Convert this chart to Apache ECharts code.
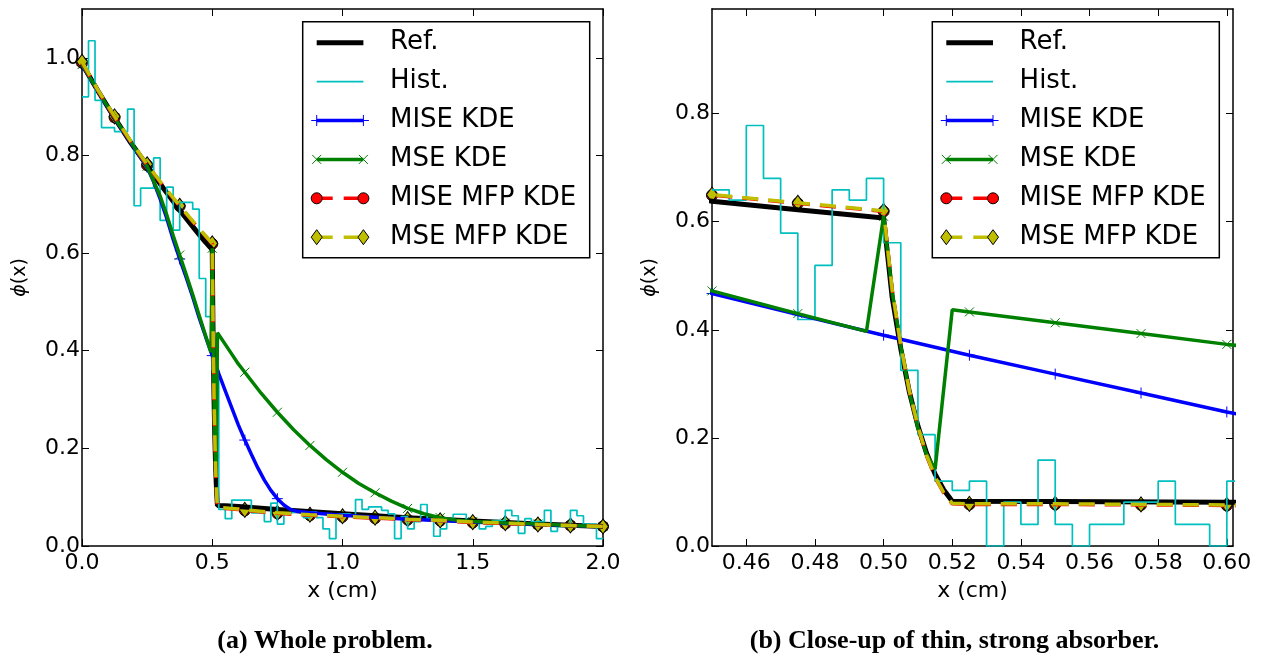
<!DOCTYPE html>
<html><head><meta charset="utf-8">
<script src="https://cdn.jsdelivr.net/npm/echarts@6/dist/echarts.min.js"></script>
<style>html,body{margin:0;padding:0;background:#fff}#c{width:1261px;height:659px}</style>
</head><body><div id="c"></div>
<script>
// ---------------- data ----------------
const seriesNames = ['Ref.', 'Hist.', 'MISE KDE', 'MSE KDE', 'MISE MFP KDE', 'MSE MFP KDE'];
const captions = ['(a) Whole problem.', '(b) Close-up of thin, strong absorber.'];

const refX = [0, 0.0625, 0.125, 0.1875, 0.25, 0.3125, 0.375, 0.4375, 0.45, 0.475, 0.5, 0.5025, 0.505, 0.5075, 0.51, 0.5125, 0.515, 0.5175, 0.52, 0.55, 0.6, 0.75, 1.0, 1.25, 1.5, 1.75, 2.0];
const refY = [0.988, 0.931, 0.877, 0.826, 0.779, 0.733, 0.688, 0.646, 0.638, 0.622, 0.607, 0.46, 0.365, 0.285, 0.222, 0.172, 0.133, 0.104, 0.083, 0.0825, 0.081, 0.075, 0.066, 0.058, 0.051, 0.045, 0.040];

const miseX = [0, 0.125, 0.25, 0.275, 0.3, 0.325, 0.35, 0.375, 0.4, 0.425, 0.45, 0.475, 0.5, 0.525, 0.55, 0.575, 0.6, 0.625, 0.65, 0.675, 0.7, 0.725, 0.75, 0.775, 0.8, 0.825, 0.875, 1.0, 1.125, 1.25, 1.375, 1.5, 1.625, 1.75, 1.875, 2.0];
const miseY = [0.985, 0.876, 0.776, 0.746, 0.711, 0.672, 0.628, 0.588, 0.55, 0.51, 0.467, 0.428, 0.390, 0.353, 0.318, 0.283, 0.248, 0.217, 0.188, 0.160, 0.135, 0.114, 0.097, 0.084, 0.075, 0.071, 0.068, 0.063, 0.059, 0.055, 0.052, 0.049, 0.046, 0.044, 0.042, 0.040];

const mseX = [0, 0.125, 0.25, 0.3, 0.325, 0.35, 0.375, 0.4, 0.425, 0.45, 0.475, 0.495, 0.5, 0.5025, 0.505, 0.5075, 0.51, 0.5125, 0.515, 0.52, 0.525, 0.55, 0.575, 0.6, 0.625, 0.6875, 0.75, 0.8125, 0.875, 0.9375, 1.0, 1.0625, 1.125, 1.1875, 1.25, 1.3125, 1.375, 1.4375, 1.5, 1.625, 1.75, 1.875, 2.0];
const mseY = [0.986, 0.877, 0.778, 0.717, 0.679, 0.636, 0.596, 0.556, 0.515, 0.472, 0.430, 0.397, 0.610, 0.47, 0.37, 0.285, 0.218, 0.17, 0.142, 0.437, 0.433, 0.413, 0.393, 0.373, 0.356, 0.313, 0.274, 0.238, 0.206, 0.177, 0.151, 0.128, 0.109, 0.092, 0.077, 0.066, 0.058, 0.053, 0.050, 0.047, 0.045, 0.042, 0.040];

const mfpX = [0, 0.0625, 0.125, 0.1875, 0.25, 0.3125, 0.375, 0.4375, 0.45, 0.475, 0.5, 0.5025, 0.505, 0.5075, 0.51, 0.5125, 0.515, 0.5175, 0.52, 0.525, 0.55, 0.575, 0.6, 0.625, 0.75, 0.875, 1.0, 1.125, 1.25, 1.375, 1.5, 1.625, 1.75, 1.875, 2.0];
const miseMfpY = [0.990, 0.932, 0.878, 0.828, 0.780, 0.737, 0.696, 0.657, 0.649, 0.634, 0.619, 0.474, 0.371, 0.287, 0.221, 0.167, 0.127, 0.098, 0.078, 0.077, 0.077, 0.076, 0.075, 0.073, 0.067, 0.063, 0.060, 0.057, 0.054, 0.052, 0.048, 0.046, 0.044, 0.042, 0.040];
const mseMfpY = [0.992, 0.933, 0.880, 0.829, 0.782, 0.738, 0.697, 0.658, 0.650, 0.635, 0.620, 0.475, 0.372, 0.288, 0.222, 0.168, 0.128, 0.099, 0.079, 0.078, 0.078, 0.077, 0.076, 0.074, 0.068, 0.064, 0.061, 0.058, 0.055, 0.0525, 0.049, 0.047, 0.044, 0.042, 0.040];

// histogram (a): bins of 0.025 from 0.0
const histLeftStart = 0, histLeftBin = 0.025;
const histLeftY = [0.920, 1.035, 0.913, 0.857, 0.857, 0.849, 0.849, 0.895, 0.697, 0.733,
  0.733, 0.795, 0.667, 0.735, 0.647, 0.704, 0.704, 0.690, 0.548, 0.470,
  0.360, 0.075, 0.056, 0.094, 0.094, 0.094, 0.068, 0.068, 0.050, 0.088,
  0.045, 0.068, 0.070, 0.070, 0.058, 0.070, 0.058, 0.035, 0.015, 0.066,
  0.066, 0.062, 0.095, 0.075, 0.080, 0.080, 0.073, 0.066, 0.015, 0.060,
  0.035, 0.050, 0.085, 0.056, 0.020, 0.035, 0.050, 0.065, 0.065, 0.048,
  0.048, 0.035, 0.040, 0.052, 0.052, 0.073, 0.062, 0.026, 0.056, 0.050,
  0.050, 0.073, 0.030, 0.040, 0.040, 0.073, 0.062, 0.045, 0.045, 0.015];
// histogram (b): bins of 0.005 from 0.45
const histRightStart = 0.45, histRightBin = 0.005;
const histRightY = [0.659, 0.640, 0.778, 0.680, 0.579, 0.419, 0.519, 0.659, 0.640, 0.680,
  0.561, 0.325, 0.206, 0.120, 0.103, 0.120, 0, 0.081, 0.040, 0.159,
  0.040, 0, 0.040, 0.040, 0.081, 0.081, 0.120, 0.040, 0.040, 0, 0.120];

// marker positions
const markLeftX = [0, 0.125, 0.25, 0.375, 0.5, 0.625, 0.75, 0.875, 1.0, 1.125, 1.25, 1.375, 1.5, 1.625, 1.75, 1.875, 2.0];
const markRightX = [0.45, 0.475, 0.5, 0.525, 0.55, 0.575, 0.6];

// ticks
const xTicksLeft = [0, 0.5, 1.0, 1.5, 2.0];
const yTicksLeft = [0, 0.2, 0.4, 0.6, 0.8, 1.0];
const xTicksRight = [0.46, 0.48, 0.50, 0.52, 0.54, 0.56, 0.58, 0.60];
const yTicksRight = [0, 0.2, 0.4, 0.6, 0.8];
const xRangeLeft = [0, 2.0], yRangeLeft = [0, 1.1];
const xRangeRight = [0.45, 0.6018], yRangeRight = [0, 0.9935];

// ---------------- build ----------------
const FONT = 'DejaVu Sans';
const C = {ref: '#000000', hist: '#00bfbf', mise: '#0000ff', mse: '#008000', miseMfp: '#ff0000', mseMfp: '#bfbf00'};
const GRIDS = [{left: 82, top: 9, width: 521, height: 537}, {left: 712, top: 9, width: 521, height: 537}];

function pts(xs, ys) { return xs.map((x, i) => [x, ys[i]]); }
function pick(xs, ys, marks) {
  const out = [];
  marks.forEach(m => { const i = xs.findIndex(x => Math.abs(x - m) < 1e-9); if (i >= 0) out.push([xs[i], ys[i]]); });
  return out;
}
function hist(start, bin, ys) {
  const d = ys.map((v, i) => [start + i * bin, v]);
  d.push([start + ys.length * bin, ys[ys.length - 1]]);
  return d;
}
const PLUS = 'path://M5,0L5,10M0,5L10,5';
const CROSS = 'path://M0,0L10,10M0,10L10,0';

function axesFor(g, xr, yr, xt, yt, xdec, ydec) {
  const line = {show: true, onZero: false, lineStyle: {color: '#000', width: 1.5}};
  const tickB = {show: true, inside: true, length: 7, lineStyle: {color: '#000', width: 1}};
  const xs = [
    {type: 'value', gridIndex: g, min: xr[0], max: xr[1], position: 'bottom',
     axisLine: line, axisTick: Object.assign({customValues: xt}, tickB), splitLine: {show: false},
     axisLabel: {customValues: xt, formatter: v => v.toFixed(xdec), fontFamily: FONT, fontSize: 22, color: '#000', margin: 6},
     name: 'x (cm)', nameLocation: 'middle', nameGap: 34,
     nameTextStyle: {fontFamily: FONT, fontSize: 22, color: '#000'}},
    {type: 'value', gridIndex: g, min: xr[0], max: xr[1], position: 'top',
     axisLine: line, axisTick: Object.assign({customValues: xt}, tickB), splitLine: {show: false},
     axisLabel: {show: false}}
  ];
  const ys = [
    {type: 'value', gridIndex: g, min: yr[0], max: yr[1], position: 'left',
     axisLine: line, axisTick: Object.assign({customValues: yt}, tickB), splitLine: {show: false},
     axisLabel: {customValues: yt, formatter: v => v.toFixed(ydec), fontFamily: FONT, fontSize: 22, color: '#000', margin: 2},
     name: '{p|ϕ}(x)', nameLocation: 'middle', nameGap: 52, nameRotate: 90,
     nameTextStyle: {fontFamily: FONT, fontSize: 19, color: '#000',
       rich: {p: {fontFamily: FONT, fontStyle: 'italic', fontSize: 19, color: '#000'}}}},
    {type: 'value', gridIndex: g, min: yr[0], max: yr[1], position: 'right',
     axisLine: line, axisTick: Object.assign({customValues: yt}, tickB), splitLine: {show: false},
     axisLabel: {show: false}}
  ];
  return {xs, ys};
}

function seriesFor(xi, yi, histData, marks) {
  const base = {xAxisIndex: xi, yAxisIndex: yi, silent: true, animation: false};
  const L = (name, data, color, width, type) => Object.assign({type: 'line', name, data, symbol: 'none', showSymbol: false,
    lineStyle: {color, width, type: type || 'solid'}, itemStyle: {color}}, base);
  const S = (name, data, symbol, size, fill, stroke, bw) => Object.assign({type: 'scatter', name, data, symbol, symbolSize: size,
    itemStyle: {color: fill, borderColor: stroke, borderWidth: bw, opacity: 1}}, base);
  return [
    L(seriesNames[0], pts(refX, refY), C.ref, 5),
    Object.assign(L(seriesNames[1], histData, C.hist, 1.7), {step: 'end'}),
    L(seriesNames[2], pts(miseX, miseY), C.mise, 3.5),
    S(seriesNames[2], pick(miseX, miseY, marks), PLUS, 11, 'rgba(0,0,0,0)', C.mise, 1),
    L(seriesNames[3], pts(mseX, mseY), C.mse, 3.5),
    S(seriesNames[3], pick(mseX, mseY, marks), CROSS, 9, 'rgba(0,0,0,0)', C.mse, 1),
    L(seriesNames[4], pts(mfpX, miseMfpY), C.miseMfp, 3.5, [16, 10]),
    S(seriesNames[4], pick(mfpX, miseMfpY, marks), 'circle', 11, C.miseMfp, '#000', 1),
    L(seriesNames[5], pts(mfpX, mseMfpY), C.mseMfp, 3.5, [16, 10]),
    S(seriesNames[5], pick(mfpX, mseMfpY, marks), 'diamond', [11, 15], C.mseMfp, '#000', 1)
  ];
}

function legendGraphic(x0, y0) {
  const els = [];
  const Z = 100;
  els.push({type: 'rect', z: Z, shape: {x: x0, y: y0, width: 287, height: 236}, style: {fill: '#fff', stroke: '#000', lineWidth: 1.5}});
  const xa = x0 + 14, xb = x0 + 60.7, tx = x0 + 87.3;
  seriesNames.forEach((nm, i) => {
    const y = y0 + 21 + i * 38.9;
    const lineStyle = [
      {stroke: C.ref, lineWidth: 5},
      {stroke: C.hist, lineWidth: 1.7},
      {stroke: C.mise, lineWidth: 3.5},
      {stroke: C.mse, lineWidth: 3.5},
      {stroke: C.miseMfp, lineWidth: 3.5, lineDash: [16, 11]},
      {stroke: C.mseMfp, lineWidth: 3.5, lineDash: [16, 11]}
    ][i];
    els.push({type: 'line', z: Z + 1, shape: {x1: xa, y1: y, x2: xb, y2: y}, style: lineStyle});
    [xa, xb].forEach(cx => {
      if (i === 2) {
        els.push({type: 'line', z: Z + 2, shape: {x1: cx - 5.5, y1: y, x2: cx + 5.5, y2: y}, style: {stroke: C.mise, lineWidth: 1}});
        els.push({type: 'line', z: Z + 2, shape: {x1: cx, y1: y - 5.5, x2: cx, y2: y + 5.5}, style: {stroke: C.mise, lineWidth: 1}});
      } else if (i === 3) {
        els.push({type: 'line', z: Z + 2, shape: {x1: cx - 4.5, y1: y - 4.5, x2: cx + 4.5, y2: y + 4.5}, style: {stroke: C.mse, lineWidth: 1}});
        els.push({type: 'line', z: Z + 2, shape: {x1: cx - 4.5, y1: y + 4.5, x2: cx + 4.5, y2: y - 4.5}, style: {stroke: C.mse, lineWidth: 1}});
      } else if (i === 4) {
        els.push({type: 'circle', z: Z + 2, shape: {cx, cy: y, r: 5.5}, style: {fill: C.miseMfp, stroke: '#000', lineWidth: 1}});
      } else if (i === 5) {
        els.push({type: 'polygon', z: Z + 2, shape: {points: [[cx, y - 7.5], [cx + 5.5, y], [cx, y + 7.5], [cx - 5.5, y]]},
          style: {fill: C.mseMfp, stroke: '#000', lineWidth: 1}});
      }
    });
    els.push({type: 'text', z: Z + 2, x: tx, y: y, style: {text: nm, fontFamily: FONT, fontSize: 26, fill: '#000', align: 'left', verticalAlign: 'middle'}});
  });
  return els;
}

const A = axesFor(0, xRangeLeft, yRangeLeft, xTicksLeft, yTicksLeft, 1, 1);
const B = axesFor(1, xRangeRight, yRangeRight, xTicksRight, yTicksRight, 2, 1);

const option = {
  animation: false,
  backgroundColor: '#fff',
  grid: GRIDS.map(g => Object.assign({containLabel: false}, g)),
  xAxis: A.xs.concat(B.xs),
  yAxis: A.ys.concat(B.ys),
  series: seriesFor(0, 0, hist(histLeftStart, histLeftBin, histLeftY), markLeftX)
    .concat(seriesFor(2, 2, hist(histRightStart, histRightBin, histRightY), markRightX)),
  graphic: legendGraphic(GRIDS[0].left + 220.7, 21.7)
    .concat(legendGraphic(GRIDS[1].left + 220.3, 21.7))
    .concat([
      {type: 'text', x: 325, y: 641, style: {text: captions[0], fontFamily: 'Liberation Serif', fontWeight: 'bold', fontSize: 26, fill: '#000', align: 'center', verticalAlign: 'middle'}},
      {type: 'text', x: 954.5, y: 641, style: {text: captions[1], fontFamily: 'Liberation Serif', fontWeight: 'bold', fontSize: 26, fill: '#000', align: 'center', verticalAlign: 'middle'}}
    ])
};
const chart = echarts.init(document.getElementById('c'), null, {renderer: 'canvas'});
chart.setOption(option);
</script></body></html>
